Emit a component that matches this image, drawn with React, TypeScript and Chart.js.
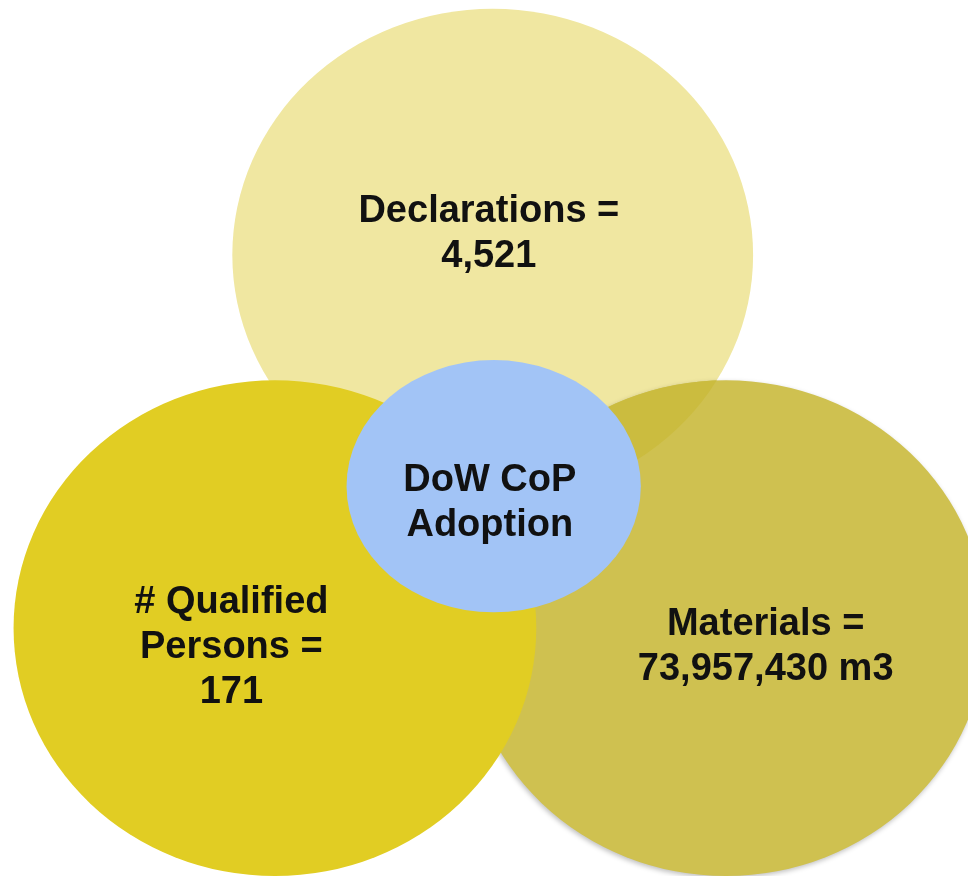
import React, { useEffect, useRef } from "react";
import { Chart, registerables } from "chart.js";

Chart.register(...registerables);

// Sets of the diagram (data space: 0..100 on both axes)
const setNames = ["Declarations", "Qualified Persons", "Materials", "DoW CoP Adoption"];
const labelLines = [
  ["Declarations =", "4,521"],
  ["# Qualified", "Persons =", "171"],
  ["Materials =", "73,957,430 m3"],
  ["DoW CoP", "Adoption"],
];
const centerX = [50.9, 28.4, 75.0, 51.0];
const centerY = [70.9, 28.3, 28.3, 44.5];
const radiusX = [26.9, 27.0, 26.9, 15.2];
const radiusY = [28.1, 28.3, 28.3, 14.4];
const labelX = [50.5, 23.9, 79.1, 50.6];
const labelY = [73.6, 26.4, 26.5, 42.9];
const fillColors = ["#F0E7A1", "#E1CD23", "#CFC150", "#A2C4F6"];
const overlapColor = "#CBBC3F";
const drawOrder = [0, 2, 1, 3];

const vennPlugin = {
  id: "vennPlugin",
  afterDatasetsDraw(chart: any) {
    const { ctx, scales } = chart;
    const xs = scales.x;
    const ys = scales.y;
    const geom = (i: number) => {
      const px = xs.getPixelForValue(centerX[i]);
      const py = ys.getPixelForValue(centerY[i]);
      const rx = Math.abs(xs.getPixelForValue(centerX[i] + radiusX[i]) - px);
      const ry = Math.abs(ys.getPixelForValue(centerY[i] + radiusY[i]) - py);
      return { px, py, rx, ry };
    };
    const path = (i: number) => {
      const g = geom(i);
      ctx.beginPath();
      ctx.ellipse(g.px, g.py, g.rx, g.ry, 0, 0, Math.PI * 2);
      ctx.closePath();
    };
    ctx.save();
    for (const i of drawOrder) {
      ctx.save();
      if (i === 2) {
        ctx.shadowColor = "rgba(0,0,0,0.25)";
        ctx.shadowBlur = 5;
        ctx.shadowOffsetX = -1;
        ctx.shadowOffsetY = 2;
      }
      path(i);
      ctx.fillStyle = fillColors[i];
      ctx.fill();
      ctx.restore();
      if (i === 2) {
        // overlap of Declarations and Materials
        ctx.save();
        path(0);
        ctx.clip();
        path(2);
        ctx.fillStyle = overlapColor;
        ctx.fill();
        ctx.restore();
      }
    }
    // labels
    const size = 38;
    const lineH = 45;
    ctx.font = `bold ${size}px "Liberation Sans", Arial, sans-serif`;
    ctx.fillStyle = "#111111";
    ctx.textAlign = "center";
    ctx.textBaseline = "alphabetic";
    labelLines.forEach((lines, i) => {
      const lx = xs.getPixelForValue(labelX[i]);
      const ly = ys.getPixelForValue(labelY[i]);
      const start = ly - ((lines.length - 1) * lineH) / 2;
      lines.forEach((t, k) => {
        ctx.fillText(t, lx, start + k * lineH + size * 0.358);
      });
    });
    ctx.restore();
  },
};

export default function App() {
  const ref = useRef<HTMLCanvasElement | null>(null);
  useEffect(() => {
    if (!ref.current) return;
    const chart = new Chart(ref.current, {
      type: "scatter",
      data: {
        datasets: [
          {
            label: "sets",
            data: setNames.map((_, i) => ({ x: centerX[i], y: centerY[i] })),
            pointRadius: 0,
            pointHoverRadius: 0,
          },
        ],
      },
      options: {
        animation: false,
        responsive: false,
        maintainAspectRatio: false,
        events: [],
        layout: { padding: 0 },
        plugins: { legend: { display: false }, tooltip: { enabled: false } },
        scales: {
          x: { type: "linear", min: 0, max: 100, display: false },
          y: { type: "linear", min: 0, max: 100, display: false },
        },
      },
      plugins: [vennPlugin],
    });
    return () => chart.destroy();
  }, []);
  return (
    <div style={{ position: "absolute", left: 0, top: 0, width: 968, height: 876, background: "#ffffff" }}>
      <canvas ref={ref} width={968} height={876} style={{ display: "block" }} />
    </div>
  );
}
